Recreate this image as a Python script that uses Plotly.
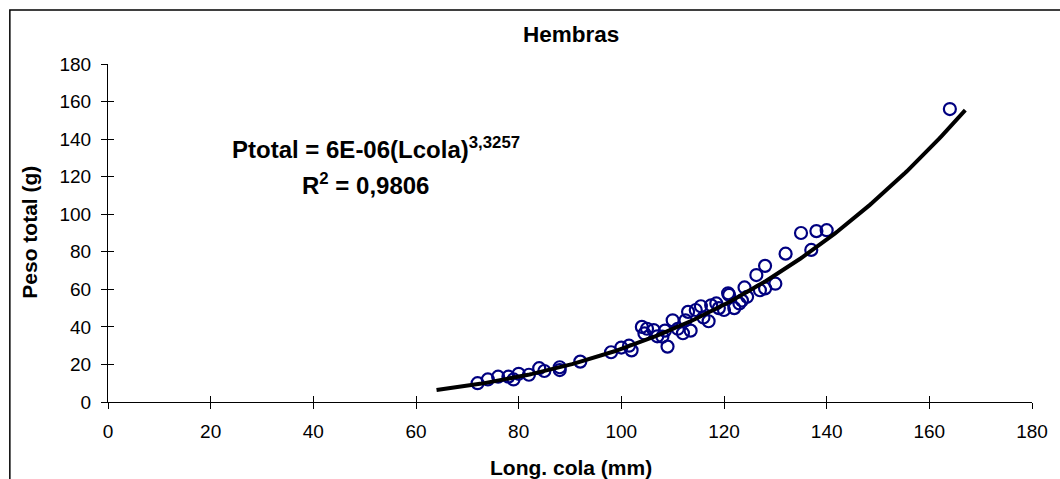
import numpy as np
import plotly.graph_objects as go

# Female specimens: tail length (mm) vs. total weight (g)
long_cola = [72, 74, 76, 78, 79, 80, 82, 84, 85, 88, 88, 92, 98, 100, 101.5, 102,
             104, 104.5, 105, 106.3, 107, 108, 108.5, 109, 110, 111, 112, 112.5, 113,
             113.5, 114.5, 115.5, 116, 117, 117.5, 118.5, 119, 120, 120.8, 121, 122,
             123, 123.5, 124, 124.5, 126.3, 127, 128, 128, 130, 132, 135, 137, 138,
             140, 164]
peso_total = [10, 12, 13.5, 13.5, 12, 15, 14.5, 18, 16.5, 18.5, 17, 21.5, 26.5, 29,
              30, 27.5, 40, 36.5, 39, 38.3, 35, 34.8, 38, 29.5, 43.5, 39, 36.6, 43.5,
              48, 38, 49, 51, 45, 43, 51.5, 52.5, 50, 49, 57.9, 57, 50,
              52.5, 54, 61, 56, 67.6, 59.5, 72.5, 60.5, 63, 79, 90, 81, 91,
              91.5, 156]

# Power trendline Ptotal = a * Lcola^b
coef_a = 6.3e-06
coef_b = 3.3257
r_squared = 0.9806
trend_range = [64, 167]

x_ticks = list(range(0, 181, 20))
y_ticks = list(range(0, 181, 20))

FONT = "Arial, Liberation Sans, sans-serif"
NAVY = "#000080"

# plot-area geometry in pixels
PL, PR, PT, PB = 108, 20, 64, 77
PW = 1060 - PL - PR
PH = 479 - PT - PB


def px(x):
    return (x - PL) / PW


def py(y):
    return (479 - PB - y) / PH


xt = np.linspace(trend_range[0], trend_range[1], 200)
yt = coef_a * xt ** coef_b

fig = go.Figure()
fig.add_trace(go.Scatter(
    x=long_cola, y=peso_total, mode="markers",
    marker=dict(symbol="circle-open", size=12, color=NAVY, line=dict(width=2.2, color=NAVY)),
    showlegend=False, hoverinfo="x+y"))
fig.add_trace(go.Scatter(
    x=xt, y=yt, mode="lines", line=dict(color="black", width=4),
    showlegend=False, hoverinfo="skip"))
# invisible trace carrying the overlay axes (inner half of the crossing ticks)
fig.add_trace(go.Scatter(x=[None], y=[None], xaxis="x2", yaxis="y2",
                         showlegend=False, hoverinfo="skip"))

axis_common = dict(showgrid=False, zeroline=False, showline=True, linecolor="black",
                   linewidth=1, ticks="outside", ticklen=6, tickcolor="black",
                   tickwidth=1, range=[0, 180], ticklabelstandoff=6,
                   tickfont=dict(family=FONT, size=19, color="black"))

fig.update_layout(
    width=1060, height=479,
    margin=dict(l=PL, r=PR, t=PT, b=PB),
    paper_bgcolor="white", plot_bgcolor="white",
    xaxis=dict(**axis_common, tickvals=x_ticks, ticktext=[str(v) for v in x_ticks]),
    yaxis=dict(**axis_common, tickvals=y_ticks, ticktext=[str(v) for v in y_ticks]),
    xaxis2=dict(overlaying="x", range=[0, 180], tickvals=x_ticks, ticks="inside",
                ticklen=6, tickcolor="black", showticklabels=False, showgrid=False,
                zeroline=False, showline=False, side="bottom"),
    yaxis2=dict(overlaying="y", range=[0, 180], tickvals=y_ticks, ticks="inside",
                ticklen=6, tickcolor="black", showticklabels=False, showgrid=False,
                zeroline=False, showline=False, side="left"),
)

exp_label = f"{coef_b:.4f}".replace(".", ",")
a_label = f"{coef_a:.0E}"
r2_label = f"{r_squared:.4f}".replace(".", ",")

annotations = [
    dict(text="<b>Hembras</b>", x=px(575), y=py(35), xref="paper", yref="paper",
         showarrow=False, font=dict(family=FONT, size=22.5, color="black"),
         xanchor="center", yanchor="middle"),
    dict(text="<b>Long. cola (mm)</b>", x=px(575), y=py(468), xref="paper", yref="paper",
         showarrow=False, font=dict(family=FONT, size=21, color="black"),
         xanchor="center", yanchor="middle"),
    dict(text="<b>Peso total (g)</b>", x=px(28), y=py(232), xref="paper", yref="paper",
         showarrow=False, textangle=-90, font=dict(family=FONT, size=21, color="black"),
         xanchor="center", yanchor="middle"),
    dict(text=f"<b>Ptotal = {a_label}(Lcola)<sup>{exp_label}</sup></b>",
         x=px(378), y=py(148), xref="paper", yref="paper",
         showarrow=False, font=dict(family=FONT, size=24, color="black"),
         xanchor="center", yanchor="middle"),
    dict(text=f"<b>R<sup>2</sup> = {r2_label}</b>",
         x=px(368), y=py(184), xref="paper", yref="paper",
         showarrow=False, font=dict(family=FONT, size=24, color="black"),
         xanchor="center", yanchor="middle"),
]
fig.update_layout(annotations=annotations)

# chart-area border
fig.add_shape(type="rect", xref="paper", yref="paper",
              x0=px(9), x1=px(1075), y0=py(495), y1=py(10),
              line=dict(color="black", width=1.5), fillcolor="rgba(0,0,0,0)",
              layer="below")

fig.write_html("out.html")
